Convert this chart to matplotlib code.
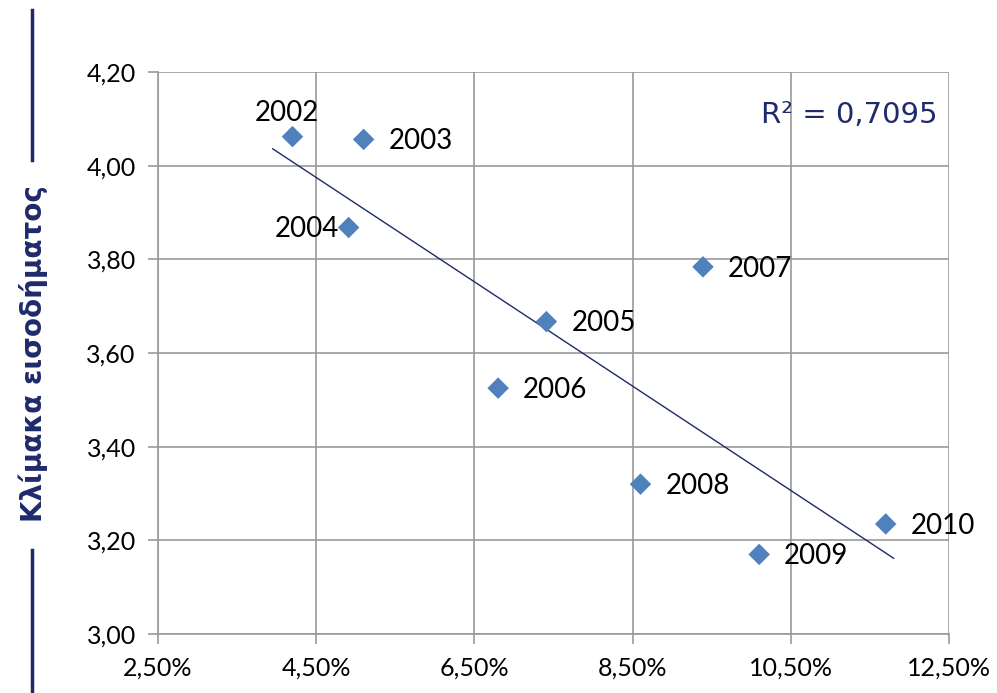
import matplotlib.pyplot as plt
import numpy as np
from matplotlib.ticker import FuncFormatter
from matplotlib.lines import Line2D

# Data
years = ['2002', '2003', '2004', '2005', '2006', '2007', '2008', '2009', '2010']
unemployment = [4.20, 5.10, 4.91, 7.41, 6.80, 9.39, 8.60, 10.10, 11.70]   # %
income_scale = [4.062, 4.056, 3.868, 3.667, 3.525, 3.784, 3.320, 3.170, 3.235]
r2_label = 'R² = 0,7095'
trend_range = [3.95, 11.8]

x_ticks = [2.5, 4.5, 6.5, 8.5, 10.5, 12.5]
y_ticks = [3.0, 3.2, 3.4, 3.6, 3.8, 4.0, 4.2]

# label offsets (points): most labels sit to the right, 2002 above, 2004 left
label_pos = {
    '2002': (-4, 11, 'center'),
    '2004': (-7, -7, 'right'),
}
default_pos = (18, -7, 'left')

navy = '#1F2A6B'
blue = '#4F81BD'
grid_c = '#999999'

fig = plt.figure(figsize=(9.97, 6.93), dpi=100)
ax = fig.add_axes([158 / 997, 0.0851, 791 / 997, 0.8110])

ax.scatter(unemployment, income_scale, marker='D', s=120, color=blue,
           edgecolors='none', zorder=3)

for yr, xv, yv in zip(years, unemployment, income_scale):
    dx, dy, ha = label_pos.get(yr, default_pos)
    ax.annotate(yr, (xv, yv), xytext=(dx, dy), textcoords='offset points',
                ha=ha, va='baseline', fontsize=20, family='Lato',
                color='black', zorder=4)

# linear trend line
slope, intercept = np.polyfit(unemployment, income_scale, 1)
tx = np.array(trend_range)
ax.plot(tx, slope * tx + intercept, color=navy, lw=1.0, zorder=2)

ax.text(0.986, 0.9235, r2_label, transform=ax.transAxes, ha='right',
        va='center', fontsize=21, color=navy, family='DejaVu Sans')

ax.set_xlim(2.5, 12.5)
ax.set_ylim(3.0, 4.2)
ax.set_xticks(x_ticks)
ax.set_yticks(y_ticks)
ax.xaxis.set_major_formatter(FuncFormatter(lambda v, p: f'{v:.2f}%'.replace('.', ',')))
ax.yaxis.set_major_formatter(FuncFormatter(lambda v, p: f'{v:.2f}'.replace('.', ',')))

ax.grid(True, color=grid_c, lw=1.2)
ax.set_axisbelow(True)
for s in ['top', 'right']:
    ax.spines[s].set_visible(False)
for s in ['left', 'bottom']:
    ax.spines[s].set_color(grid_c)
    ax.spines[s].set_linewidth(1.2)
ax.tick_params(axis='both', color=grid_c, length=7, width=1.2, labelsize=18,
               pad=9)
for lbl in ax.get_xticklabels() + ax.get_yticklabels():
    lbl.set_family('Lato')

# y-axis title with decorative lines above and below
fig.text(0.0335, 1 - 354 / 693, 'Κλίμακα εισοδήματος', rotation=90,
         ha='center', va='center', fontsize=20, fontweight='bold',
         color=navy, family='DejaVu Sans')
fig.add_artist(Line2D([0.032, 0.032], [1 - 10 / 693, 1 - 160 / 693],
                      color=navy, lw=2.5, transform=fig.transFigure))
fig.add_artist(Line2D([0.032, 0.032], [1 - 550 / 693, 0.0],
                      color=navy, lw=2.5, transform=fig.transFigure))

fig.savefig('out.png', dpi=100, facecolor='white')
